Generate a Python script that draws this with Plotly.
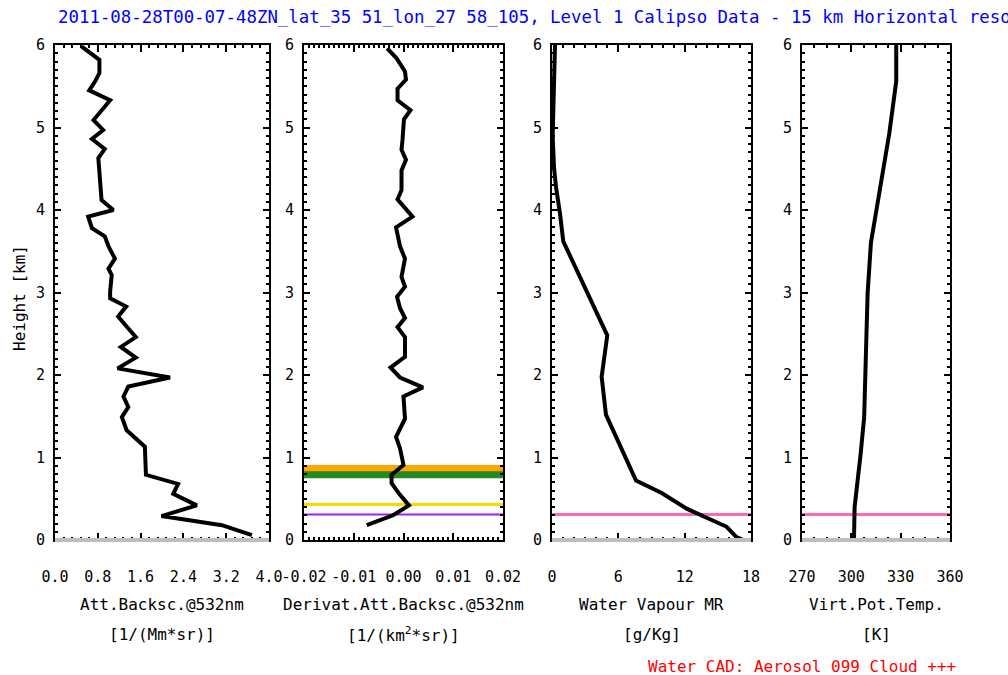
import plotly.graph_objects as go

# ---------------- data ----------------
bs_height = [5.98, 5.82, 5.66, 5.56, 5.45, 5.33, 5.09, 4.97, 4.86, 4.74, 4.63, 4.44, 4.24, 4.12,
             4.00, 3.92, 3.78, 3.68, 3.56, 3.41, 3.29, 3.21, 3.01, 2.93, 2.83, 2.71, 2.61, 2.46,
             2.34, 2.21, 2.08, 1.97, 1.86, 1.74, 1.61, 1.49, 1.33, 1.21, 1.13, 0.79, 0.68, 0.56,
             0.42, 0.29, 0.18, 0.06]
bs_value = [0.50, 0.83, 0.83, 0.75, 0.64, 1.03, 0.72, 0.90, 0.69, 0.93, 0.81, 0.83, 0.85, 0.87,
            1.09, 0.62, 0.69, 0.93, 1.00, 1.12, 1.00, 1.06, 1.03, 1.03, 1.33, 1.18, 1.31, 1.51,
            1.23, 1.51, 1.17, 2.15, 1.37, 1.28, 1.37, 1.25, 1.34, 1.53, 1.68, 1.70, 2.30, 2.21,
            2.65, 1.99, 3.12, 3.68]

der_height = [5.96, 5.84, 5.68, 5.58, 5.47, 5.33, 5.21, 5.10, 4.85, 4.73, 4.61, 4.48, 4.24, 4.13,
              3.92, 3.79, 3.56, 3.41, 3.19, 3.07, 2.95, 2.81, 2.69, 2.58, 2.46, 2.22, 2.09, 1.97,
              1.85, 1.74, 1.47, 1.25, 1.11, 0.91, 0.79, 0.69, 0.57, 0.42, 0.30, 0.18]
der_value = [-0.0033, -0.0014, 0.0003, 0.0005, -0.0012, -0.0012, 0.0014, 0.0001, -0.0002, -0.0004,
             0.0005, -0.0004, -0.0004, -0.0012, 0.0018, -0.0015, -0.0007, 0.0003, -0.0004, 0.0003,
             -0.0013, -0.0007, 0.0003, -0.0012, 0.0003, 0.0003, -0.0026, -0.0007, 0.0039, 0.0000,
             0.0003, -0.0015, -0.0007, 0.0000, -0.0024, -0.0024, -0.0010, 0.0011, -0.0021, -0.0074]

wv_height = [6.0, 5.25, 4.89, 4.52, 4.28, 3.96, 3.62, 2.48, 1.98, 1.52, 0.72, 0.57, 0.38, 0.16,
             0.10, 0.04, 0.0]
wv_value = [0.27, 0.18, 0.06, 0.18, 0.36, 0.72, 1.02, 5.0, 4.49, 4.88, 7.6, 9.92, 12.18, 15.80,
            16.25, 16.64, 17.3]

vpt_height = [6.0, 5.56, 4.93, 4.24, 3.60, 2.99, 2.02, 1.49, 1.05, 0.40, 0.0]
vpt_value = [327.3, 327.3, 323.1, 317.0, 311.9, 309.9, 308.2, 307.8, 305.7, 302.0, 301.6]

# layer heights (km)
orange_h = 0.86
green_h = 0.79
gold_h = 0.43
purple_h = 0.31
cad_h = 0.31
ground_h = 0.0

height_ticks = [0, 1, 2, 3, 4, 5, 6]
x1_ticks = [0.0, 0.8, 1.6, 2.4, 3.2, 4.0]
x1_text = ["0.0", "0.8", "1.6", "2.4", "3.2", "4.0"]
x2_ticks = [-0.02, -0.01, 0.0, 0.01, 0.02]
x2_text = ["-0.02", "-0.01", "0.00", "0.01", "0.02"]
x3_ticks = [0, 6, 12, 18]
x3_text = ["0", "6", "12", "18"]
x4_ticks = [270, 300, 330, 360]
x4_text = ["270", "300", "330", "360"]

title_text = ("2011-08-28T00-07-48ZN_lat_35 51_lon_27 58_105, Level 1 Calipso Data - "
              "15 km Horizontal resolution")
panel_titles = [("Att.Backsc.@532nm", "[1/(Mm*sr)]"),
                ("Derivat.Att.Backsc.@532nm", "[1/(km<sup>2</sup>*sr)]"),
                ("Water Vapour MR", "[g/Kg]"),
                ("Virt.Pot.Temp.", "[K]")]
legend_text = "Water CAD: Aerosol 099 Cloud +++"

# ---------------- layout geometry ----------------
W, H = 1008, 675
FONT = "DejaVu Sans Mono"
domains_px = [(55, 269), (304, 503), (552, 751), (802, 950)]
y_dom = [(675 - 540) / H, (675 - 45) / H]
x_ranges = [[0, 4], [-0.02, 0.02], [0, 18], [270, 360]]
x_minor = [0.16, 0.001, 1, 7.5]
x_tickv = [x1_ticks, x2_ticks, x3_ticks, x4_ticks]
x_tickt = [x1_text, x2_text, x3_text, x4_text]

fig = go.Figure()

curves = [(bs_value, bs_height), (der_value, der_height), (wv_value, wv_height), (vpt_value, vpt_height)]
for i, (xv, yv) in enumerate(curves):
    sfx = "" if i == 0 else str(i + 1)
    fig.add_trace(go.Scatter(x=xv, y=yv, mode="lines", line=dict(color="black", width=4),
                             xaxis="x" + sfx, yaxis="y" + sfx, showlegend=False,
                             hoverinfo="skip"))

layout = dict(width=W, height=H, autosize=False, margin=dict(l=0, r=0, t=0, b=0, pad=0, autoexpand=False),
              paper_bgcolor="white", plot_bgcolor="white", showlegend=False,
              font=dict(family=FONT, color="black", size=14))

for i in range(4):
    sfx = "" if i == 0 else str(i + 1)
    x0, x1 = domains_px[i]
    layout["xaxis" + sfx] = dict(
        domain=[x0 / W, x1 / W], range=x_ranges[i], anchor="y" + sfx, automargin=False,
        tickmode="array", tickvals=x_tickv[i], ticktext=x_tickt[i],
        ticks="inside", ticklen=7, tickwidth=1.5, tickcolor="black",
        showline=True, linecolor="black", linewidth=2, mirror="allticks",
        showgrid=False, zeroline=False, ticklabelstandoff=22,
        tickfont=dict(family=FONT, size=15, color="black"),
        minor=dict(ticks="inside", ticklen=3, tickwidth=1.5, tickcolor="black",
                   tickmode="linear", tick0=x_ranges[i][0], dtick=x_minor[i], showgrid=False),
    )
    layout["yaxis" + sfx] = dict(
        domain=y_dom, range=[0, 6], anchor="x" + sfx, automargin=False,
        tickmode="array", tickvals=height_ticks, ticktext=[str(t) for t in height_ticks],
        ticks="inside", ticklen=6, tickwidth=1.5, tickcolor="black",
        showline=True, linecolor="black", linewidth=2, mirror="allticks",
        showgrid=False, zeroline=False, ticklabelstandoff=5,
        tickfont=dict(family=FONT, size=15, color="black"),
        minor=dict(ticks="inside", ticklen=3, tickwidth=1.5, tickcolor="black",
                   tickmode="linear", tick0=0, dtick=0.1, showgrid=False),
    )

shapes = []
def hline(panel, h, color, width, layer="below"):
    sfx = "" if panel == 0 else str(panel + 1)
    shapes.append(dict(type="line", xref="x" + sfx + " domain", yref="y" + sfx,
                       x0=0, x1=1, y0=h, y1=h, layer=layer,
                       line=dict(color=color, width=width)))

hline(1, orange_h, "#FFA500", 8)
hline(1, green_h, "#228B22", 7)
hline(1, gold_h, "#FFD700", 3)
hline(1, purple_h, "#A020F0", 2)
hline(2, cad_h, "#FF69B4", 3)
hline(3, cad_h, "#FF69B4", 3)
for p in (0, 2, 3):
    sfx = "" if p == 0 else str(p + 1)
    shapes.append(dict(type="line", xref="x" + sfx + " domain", yref="y" + sfx + " domain",
                       x0=0, x1=1, y0=ground_h, y1=ground_h, layer="above",
                       line=dict(color="#BEBEBE", width=4)))
layout["shapes"] = shapes

ann = []
ann.append(dict(text=title_text, xref="paper", yref="paper", x=57 / W, y=1 - 17 / H,
                xanchor="left", yanchor="middle", showarrow=False, borderpad=0,
                font=dict(family=FONT, size=17.4, color="#0000FF")))
ann.append(dict(text="Height [km]", xref="paper", yref="paper", x=19 / W, y=1 - 298 / H,
                xanchor="center", yanchor="middle", showarrow=False, textangle=-90,
                font=dict(family=FONT, size=16, color="black")))
for i, (l1, l2) in enumerate(panel_titles):
    x0, x1 = domains_px[i]
    cx = (x0 + x1) / 2 / W
    ann.append(dict(text=l1, xref="paper", yref="paper", x=cx, y=1 - 604 / H,
                    xanchor="center", yanchor="middle", showarrow=False,
                    font=dict(family=FONT, size=16, color="black")))
    ann.append(dict(text=l2, xref="paper", yref="paper", x=cx, y=1 - 634 / H,
                    xanchor="center", yanchor="middle", showarrow=False,
                    font=dict(family=FONT, size=16, color="black")))
ann.append(dict(text=legend_text, xref="paper", yref="paper", x=802 / W, y=1 - 666 / H,
                xanchor="center", yanchor="middle", showarrow=False,
                font=dict(family=FONT, size=16, color="#FF0000")))
layout["annotations"] = ann

fig.update_layout(**layout)
fig.write_html("out.html")
